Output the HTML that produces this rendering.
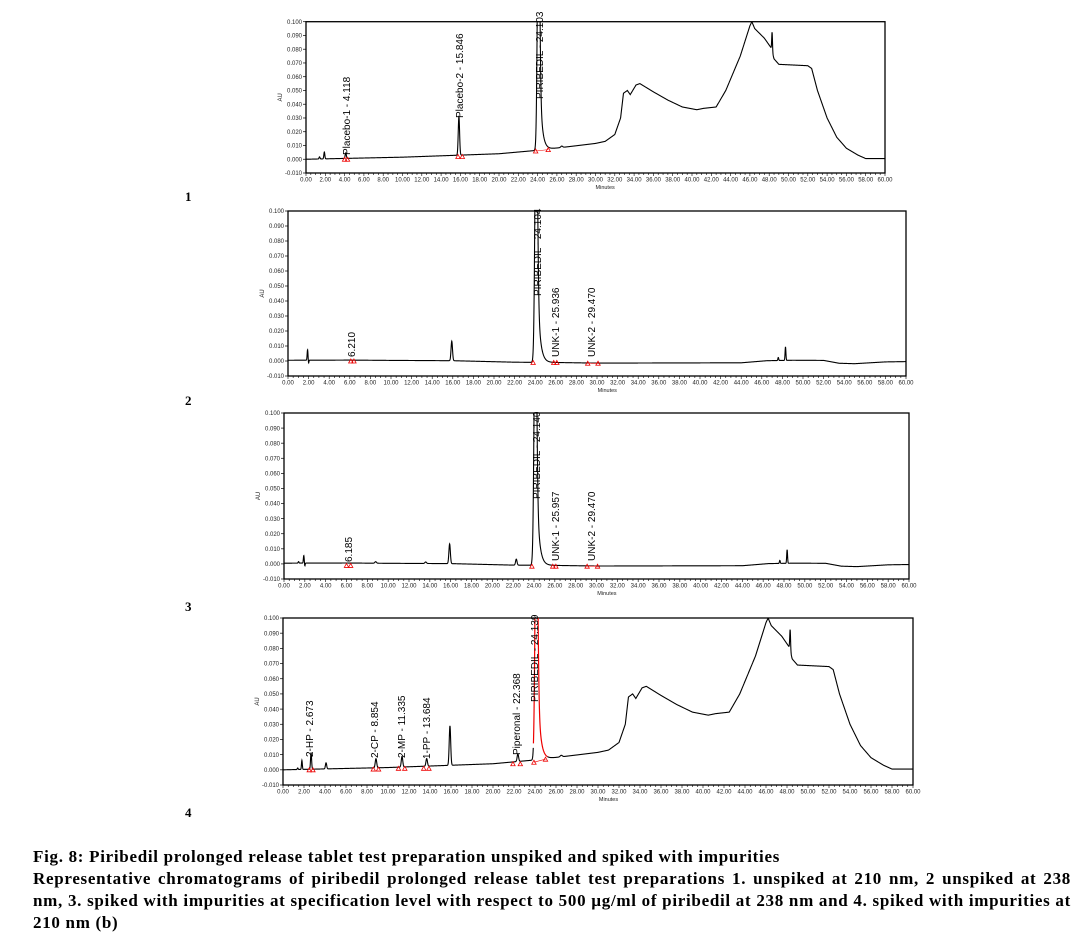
<!DOCTYPE html>
<html><head><meta charset="utf-8">
<style>
html,body{margin:0;padding:0;background:#fff;}
body{width:1084px;height:941px;position:relative;overflow:hidden;}
svg{position:absolute;left:0;top:0;}
.cap{position:absolute;left:33px;top:846px;width:1038px;font-family:"Liberation Serif",serif;font-weight:bold;font-size:17px;letter-spacing:0.7px;line-height:22px;text-align:justify;color:#000;}
.num{position:absolute;left:185px;font-family:"Liberation Serif",serif;font-weight:bold;font-size:13px;}
</style></head><body>
<svg id="s" width="1084" height="941" xmlns="http://www.w3.org/2000/svg" font-family="Liberation Sans, sans-serif">
<defs>
<clipPath id="c1"><rect x="306" y="21.7" width="579" height="151.3"/></clipPath>
<clipPath id="c2"><rect x="288" y="211" width="618" height="165"/></clipPath>
<clipPath id="c3"><rect x="284" y="413" width="625" height="166"/></clipPath>
<clipPath id="c4"><rect x="283" y="618" width="630" height="167"/></clipPath>
</defs>
<g id="g1"></g><g id="g2"></g><g id="g3"></g><g id="g4"></g>
<g font-size="10" fill="#000">
<text transform="translate(350,155) rotate(-90)">Placebo-1 - 4.118</text>
<text transform="translate(463,118) rotate(-90)">Placebo-2 - 15.846</text>
<text transform="translate(543,99) rotate(-90)">PIRIBEDIL - 24.103</text>
<text transform="translate(355,357) rotate(-90)">6.210</text>
<text transform="translate(541,296) rotate(-90)">PIRIBEDIL - 24.104</text>
<text transform="translate(559,357) rotate(-90)">UNK-1 - 25.936</text>
<text transform="translate(595,357) rotate(-90)">UNK-2 - 29.470</text>
<text transform="translate(352,562) rotate(-90)">6.185</text>
<text transform="translate(540,499) rotate(-90)">PIRIBEDIL - 24.140</text>
<text transform="translate(559,561) rotate(-90)">UNK-1 - 25.957</text>
<text transform="translate(595,561) rotate(-90)">UNK-2 - 29.470</text>
<text transform="translate(313,757) rotate(-90)">2-HP - 2.673</text>
<text transform="translate(378,758) rotate(-90)">2-CP - 8.854</text>
<text transform="translate(405,758) rotate(-90)">2-MP - 11.335</text>
<text transform="translate(430,759) rotate(-90)">1-PP - 13.684</text>
<text transform="translate(520,755) rotate(-90)">Piperonal - 22.368</text>
<text transform="translate(538,702) rotate(-90)">PIRIBEDIL - 24.139</text>
</g>
</svg>
<div class="num" style="top:189px">1</div>
<div class="num" style="top:393px">2</div>
<div class="num" style="top:599px">3</div>
<div class="num" style="top:805px">4</div>
<div class="cap">Fig. 8: Piribedil prolonged release tablet test preparation unspiked and spiked with impurities<br>
Representative chromatograms of piribedil prolonged release tablet test preparations 1. unspiked at 210 nm, 2 unspiked at 238 nm, 3. spiked with impurities at specification level with respect to 500 µg/ml of piribedil at 238 nm and 4. spiked with impurities at 210 nm (b)</div>
<script>
var NS="http://www.w3.org/2000/svg";
function el(p,n,a,t){var e=document.createElementNS(NS,n);for(var k in a)e.setAttribute(k,a[k]);if(t!=null)e.textContent=t;p.appendChild(e);return e;}
function interp(pts,t){for(var i=1;i<pts.length;i++){if(t<=pts[i][0]){var a=pts[i-1],b=pts[i];return a[1]+(b[1]-a[1])*(t-a[0])/(b[0]-a[0]);}}return pts[pts.length-1][1];}
function g(t,c,h,s){var d=(t-c)/s;return h*Math.exp(-0.5*d*d);}
function tail(t,c,h,s,tau){if(t<c)return g(t,c,h,s);return h*(0.6*Math.exp(-0.5*((t-c)/s)*((t-c)/s))+0.4*Math.exp(-(t-c)/tau));}
var hump=[[0,0],[10,0.0015],[20,0.004],[24,0.0065],[28,0.0098],[30,0.0115],[31,0.013],[32,0.018],[32.6,0.03],[32.9,0.048],[33.3,0.05],[33.6,0.047],[34.2,0.054],[34.6,0.055],[36,0.049],[37.5,0.043],[39,0.038],[40.5,0.036],[41.2,0.037],[42.5,0.038],[43.5,0.05],[45,0.075],[46,0.097],[46.2,0.1],[46.5,0.095],[47.5,0.088],[48.2,0.081],[48.5,0.073],[49,0.069],[52,0.068],[52.4,0.066],[53,0.05],[54,0.03],[55,0.016],[56,0.008],[57.2,0.003],[58,0.0005],[60,0.0005]];
var flat=[[0,0.0005],[6,0.0006],[10,0.0004],[16,0.0002],[22,-0.0008],[26,-0.001],[30,-0.0014],[44,-0.0012],[46.5,0.0002],[49,0.0005],[52,0.0004],[53.5,-0.0015],[55,-0.0018],[58,-0.0006],[60,-0.0004]];
var P=[
{g:"g1",c:"c1",x0:306,x1:885,yt:21.7,yb:173,f:function(t){return interp(hump,t)+g(t,1.9,0.005,0.05)+g(t,1.4,0.0015,0.05)+g(t,4.118,0.004,0.06)+g(t,15.846,0.028,0.07)+tail(t,24.103,0.2,0.12,0.25)+g(t,26.5,0.001,0.1)+g(t,48.3,0.014,0.04);},tri:[[4.0,0],[4.3,0],[15.75,0.002],[16.2,0.002],[23.8,0.006],[25.1,0.007]],red:null},
{g:"g2",c:"c2",x0:288,x1:906,yt:211,yb:376,f:function(t){return interp(flat,t)+g(t,1.9,0.007,0.04)-g(t,2.0,0.002,0.03)+g(t,15.9,0.013,0.07)+tail(t,24.104,0.2,0.12,0.25)+g(t,47.6,0.002,0.04)+g(t,48.3,0.009,0.04);},tri:[[6.1,0],[6.4,0],[23.8,-0.001],[25.8,-0.001],[26.1,-0.001],[29.1,-0.0015],[30.1,-0.0015]],red:null},
{g:"g3",c:"c3",x0:284,x1:909,yt:413,yb:579,f:function(t){return interp(flat,t)+g(t,1.4,0.001,0.04)+g(t,1.9,0.005,0.04)-g(t,2.0,0.002,0.03)+g(t,8.8,0.001,0.08)+g(t,13.6,0.001,0.08)+g(t,15.9,0.013,0.07)+g(t,22.3,0.004,0.07)+tail(t,24.14,0.2,0.12,0.25)+g(t,47.6,0.002,0.04)+g(t,48.3,0.009,0.04);},tri:[[6.0,-0.001],[6.4,-0.001],[23.8,-0.0015],[25.8,-0.0015],[26.1,-0.0015],[29.1,-0.0015],[30.1,-0.0015]],red:null},
{g:"g4",c:"c4",x0:283,x1:913,yt:618,yb:785,f:function(t){return interp(hump,t)+g(t,1.4,0.001,0.04)+g(t,1.8,0.006,0.04)+g(t,2.673,0.011,0.05)+g(t,4.1,0.004,0.06)+g(t,8.854,0.006,0.07)+g(t,11.335,0.007,0.07)+g(t,13.684,0.005,0.07)+g(t,15.9,0.026,0.07)+g(t,22.368,0.005,0.07)+tail(t,24.139,0.2,0.12,0.25)+g(t,26.5,0.001,0.1)+g(t,48.3,0.014,0.04);},tri:[[2.5,0],[2.85,0],[8.6,0.0005],[9.1,0.0005],[11.0,0.001],[11.6,0.001],[13.4,0.001],[13.9,0.001],[21.9,0.004],[22.6,0.004],[23.9,0.005],[25.0,0.007]],red:[23.85,25.2]}
];
P.forEach(function(p){
 var G=document.getElementById(p.g);
 function X(t){return p.x0+(p.x1-p.x0)*t/60;}
 function Y(v){return p.yb-(v+0.01)*(p.yb-p.yt)/0.11;}
 el(G,"rect",{x:p.x0,y:p.yt,width:p.x1-p.x0,height:p.yb-p.yt,fill:"none",stroke:"#000","stroke-width":1.3});
 for(var i=0;i<=11;i++){var v=-0.01+i*0.01,y=Y(v);el(G,"line",{x1:p.x0-3,x2:p.x0,y1:y,y2:y,stroke:"#000","stroke-width":0.7});
  el(G,"text",{x:p.x0-4,y:y+2.2,"font-size":6,"text-anchor":"end",fill:"#222"},v.toFixed(3));}
 for(var t=0;t<=60.001;t+=0.5){var x=X(t);el(G,"line",{x1:x,x2:x,y1:p.yb,y2:p.yb+(t%2==0?3:2),stroke:"#000","stroke-width":0.6});}
 for(var t=0;t<=60;t+=2){el(G,"text",{x:X(t),y:p.yb+8.5,"font-size":6,"text-anchor":"middle",fill:"#222"},t.toFixed(2));}
 el(G,"text",{x:X(31),y:p.yb+16,"font-size":5.5,"text-anchor":"middle",fill:"#222"},"Minutes");
 el(G,"text",{transform:"translate("+(p.x0-24)+","+((p.yt+p.yb)/2)+") rotate(-90)","font-size":6,"text-anchor":"middle",fill:"#222"},"AU");
 var d="",dr="";
 for(var t=0;t<=60;t+=0.015){var s=X(t).toFixed(2)+","+Y(Math.min(p.f(t),0.2)).toFixed(2);
  if(p.red&&t>=p.red[0]&&t<=p.red[1]){dr+=(dr?"L":"M")+s;if(!d)d="M"+s;else d+="M"+s;}
  else d+=(d?"L":"M")+s;}
 var cg=el(G,"g",{"clip-path":"url(#"+p.c+")"});
 el(cg,"path",{d:d,fill:"none",stroke:"#000","stroke-width":1.1});
 if(dr)el(cg,"path",{d:dr,fill:"none",stroke:"#e00","stroke-width":1.2});
 p.tri.forEach(function(q){var x=X(q[0]),y=Y(q[1]);el(G,"path",{d:"M"+(x-2.2)+","+(y+2)+"L"+x+","+(y-2)+"L"+(x+2.2)+","+(y+2)+"Z",fill:"none",stroke:"#e00","stroke-width":0.8});});
 if(p.tri.length>1){var a=p.tri[p.tri.length-2],b=p.tri[p.tri.length-1];el(G,"line",{x1:X(a[0]),y1:Y(a[1]),x2:X(b[0]),y2:Y(b[1]),stroke:"#e00","stroke-width":0.6});}
});
</script>
</body></html>
